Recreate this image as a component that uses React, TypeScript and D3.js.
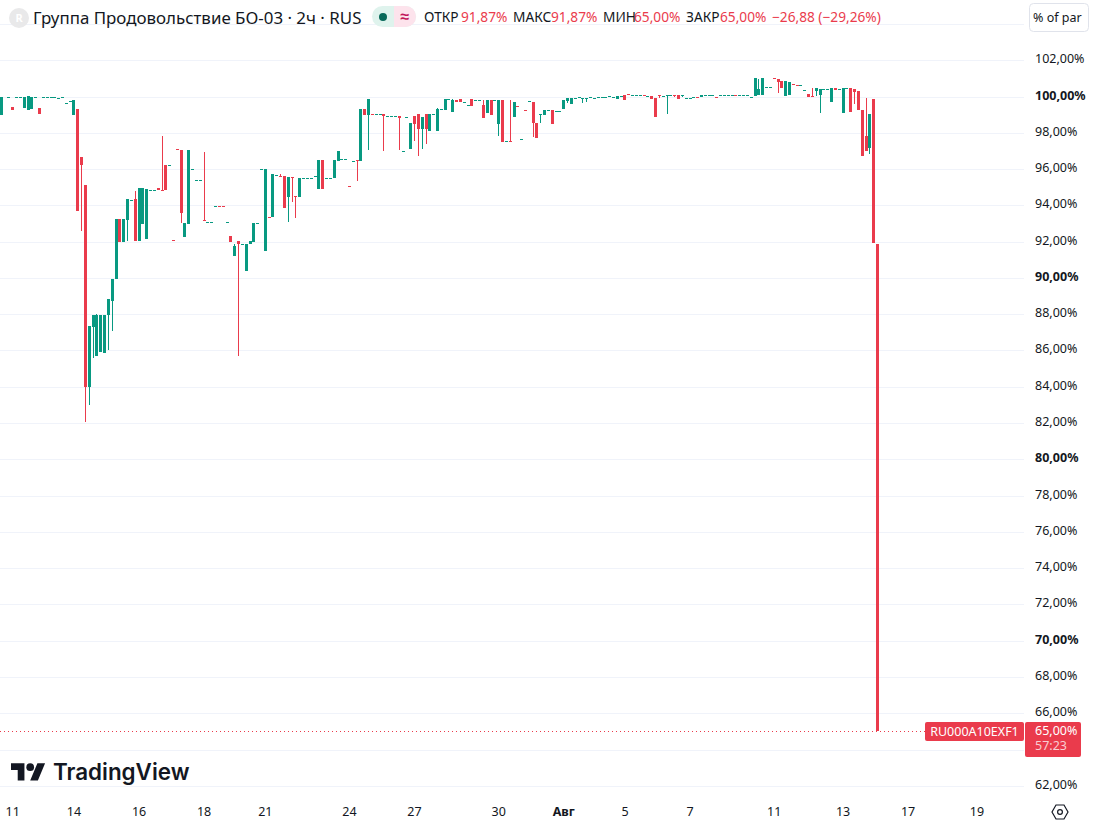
import * as d3 from "d3";

// ── Data ──────────────────────────────────────────────────────────────────────

// one row per 2h slot: [open, close, high?, low?], high/low default to the body
type Row = [number, number, (number | null)?, (number | null)?] | null;

const JUL_11_15: Row[] = [
  [99, 100], null, [99.95, 99.95], [99.42, 99.25], [99.95, 99.95], [99.95, 99.95], [99.38, 99.95], [99.25, 100.03],
  [99.31, 99.95], [99.95, 99.95], [99.36, 99.03], [99.95, 99.95], [100, 100], [99.95, 99.95], [99.95, 99.95], [99.9, 99.9],
  [99.95, 99.95], [99.66, 99.66], [99.73, 99.73], [99, 99.8], [99.3, 93.7], [96.64, 96.23, null, 92.6], [95.11, 83.97, null, 82.04],
];

const JUL_15_21: Row[] = [
  [83.97, 87.34, null, 83], [87.3, 87.93, null, 85.57], [85.67, 87.93, 88], [85.94, 87.93], [85.85, 87.98],
  [87.93, 88.81, null, 86.05], [88.7, 89.95, null, 87.06], [89.95, 93.23], [93.23, 91.98], [91.98, 93.23],
  [93.18, 94.34, null, 92.02], [94.32, 94.32], [94.34, 92.02, 94.78], [92.02, 94.98], [92.96, 94.98], [92.13, 94.89],
  [94.83, 94.83], [94.87, 94.87], [94.98, 94.87], [94.87, 94.86, 97.82], [96.22, 94.83], [96.22, 96.22], [92.11, 92.1],
  [97.08, 97.07], [97.04, 93.55, null, 93.03], [92.26, 93.01], [92.96, 97.04], [96.03, 96.03], [95.42, 95.42], [95.42, 95.42],
  [93.21, 93.2, 96.93], [93.1, 93.1], [93.1, 93.1], [93.99, 93.99], [93.99, 93.98], [93.99, 93.98], [93.1, 93.1],
  [92.29, 91.98], [91.2, 91.74, 91.89], [92.02, 91.85, null, 85.72], [91.89, 91.89], [90.38, 91.89], [91.85, 92.02],
  [91.98, 93.01], [93.01, 93.01],
];

const JUL_21_24: Row[] = [
  [95.98, 95.98], [91.48, 95.98], [93.33, 93.32], [93.36, 95.72], [95.66, 95.66], [95.6, 95.59, 95.72], [95.6, 93.86],
  [94.47, 95.57, null, 93.07], [95.55, 95.54, null, 94.19], [94.5, 94.49, null, 93.29], [94.47, 95.5], [95.53, 95.53],
  [95.53, 95.53], [95.53, 95.53], [95.6, 95.6], [94.91, 96.49], [96.49, 94.91], [95.53, 95.53], [95.53, 95.53],
  [95.51, 96.49], [96.46, 96.99], [96.53, 96.53], [96.53, 96.53], [95.09, 95.08], [96.47, 96.47], [96.49, 96.48, null, 95.35],
];

const JUL_24_31: Row[] = [
  [96.45, 99.31], [99.31, 98.98], [98.98, 99.86, null, 97.06], [99.01, 99], [99.01, 99.01], [99.01, 99.01],
  [99.03, 98.94, null, 97], [98.94, 98.94], [98.9, 98.9], [98.9, 98.9], [98.9, 98.83, null, 97.04], [97.02, 97.02],
  [98.85, 98.85], [97.1, 98.53], [98.92, 98.48, null, 97.54], [99.03, 98.2, null, 96.73], [98.2, 98.87, null, 97.1],
  [99.03, 98.2, null, 97.37], [98.09, 99.03], [99.03, 99.03], [98.09, 99.31, 99.36], [99.29, 99.29], [99.27, 99.86],
  [99.84, 99.84], [99.14, 99.8, 99.86], [99.8, 99.71], [99.86, 99.71], [99.71, 99.71], [99.53, 99.53], [99.86, 99.47],
  [99.79, 99.79], [99.79, 99.79], [99.53, 98.81, 99.8], [99.09, 99.8], [99.8, 98.98], [99.79, 99.79],
  [98.48, 99.8, null, 97.82], [99.8, 97.48], [97.52, 97.52], [97.52, 97.51, 99.8], [98.87, 99.69], [99.45, 99.44],
  [97.63, 97.63], [99.23, 99.22], [99.73, 99.73], [99.69, 98.53, null, 97.76], [98.53, 97.7], [99.01, 99.01, null, 98.53],
  [98.98, 99.25], [99.23, 99.23], [99.25, 98.48], [99.18, 99.18], [99.18, 99.18],
];

const AUG_1_10: Row[] = [
  [99.31, 99.81], [99.77, 99.92, null, 99.62], [99.59, 99.92], [99.92, 99.92], [99.95, 99.95], [99.92, 99.92, null, 99.64],
  [99.92, 99.92, null, 99.7], [99.95, 99.95], [99.93, 99.93, null, 99.84], [99.95, 99.95], [99.95, 99.95], [99.95, 99.95],
  [100.01, 100.01], [99.99, 99.99], [99.86, 100.01], [100.03, 100.03], [100.06, 99.81], [100.14, 100.13], [100.08, 100.08],
  [100.08, 100.08], [100.08, 100.08], [100.08, 100.07, 100.14], [100.03, 100.03], [100.03, 99.86], [99.92, 98.87],
  [100.06, 100.05, null, 99.92], [100.03, 100.03], [100.08, 100.08, null, 99.03], [100.08, 100.08], [100.06, 100.05, null, 99.99],
  [100.08, 99.86], [100.08, 100.08, null, 99.95], [99.9, 99.9], [99.9, 99.9], [99.95, 99.95], [99.97, 99.96], [99.97, 100.08],
  [100.08, 100.08], [100.08, 100.08], [100.08, 100.08], [99.95, 99.94], [100.08, 100.08], [100.08, 100.08], [100.08, 100.08],
  [100.08, 100.08], [100.08, 100.07], [100.08, 100.08], [100.08, 100.08], [100.08, 100.08], [99.97, 99.97],
];

const AUG_10_14: Row[] = [
  [100.03, 101.02], [100.08, 100.41, 100.97], [100.08, 101.02], [100.51, 100.51], [100.51, 100.51], [101, 100.99],
  [100.97, 100.8, null, 100.19], [100.86, 100.47], [100.03, 100.86], [100.06, 100.8], [100.69, 100.68], [100.64, 100.63],
  [100.62, 100.62], [100.36, 100.36], [100.14, 99.97], [100.03, 100.02, 100.47], [100.3, 100.47, null, 100.03],
  [100.08, 100.41, null, 99.09], [100.41, 100.41], [100.41, 100.41], [99.7, 100.47], [100.47, 100.36], [100.41, 100.41],
  [99.09, 100.47], [100.47, 100.47], [100.47, 99.14], [100.41, 100.25, null, 99.59], [100.3, 99.25], [99.25, 96.71],
  [97.82, 96.99, 99.92], [97.15, 99.03, null, 96.82], [99.86, 91.9], [91.87, 65],
];

const CANDLES: Row[] = [...JUL_11_15, ...JUL_15_21, ...JUL_21_24, ...JUL_24_31, ...AUG_1_10, ...AUG_10_14];

const GRID_VALUES = [104, 102, 100, 98, 96, 94, 92, 90, 88, 86, 84, 82, 80, 78, 76, 74, 72, 70, 68, 66, 64, 62];
const PRICE_LABELS = [102, 100, 98, 96, 94, 92, 90, 88, 86, 84, 82, 80, 78, 76, 74, 72, 70, 68, 66, 62];
const BOLD_LABELS = [100, 90, 80, 70];

const DATE_LABELS = ["11", "14", "16", "18", "21", "24", "27", "30", "Авг", "5", "7", "11", "13", "17", "19"];
const DATE_SLOTS = [3, 19, 36, 53, 69, 91, 108, 130, 147, 163, 180, 202, 220, 237, 255];

const LAST_PRICE = 65;

// ── Constants ─────────────────────────────────────────────────────────────────

const WIDTH = 1093;
const HEIGHT = 826;
const GREEN = "#089981";
const RED = "#ea3b4c";
const TEXT = "#131722";
const FONT = "'Noto Sans', sans-serif";

const xScale = d3.scaleLinear().domain([0, 229]).range([1.3, 877.5]);
const yScale = d3.scaleLinear().domain([100, 62]).range([96.5, 785.8]);

const fmt = (v: number) => `${v.toFixed(2).replace(".", ",")}%`;

function Candle({ row, slot }: { row: Row; slot: number }) {
  if (!row) return null;
  const [open, close, high, low] = row;
  const top = Math.max(open, close);
  const bottom = Math.min(open, close);
  const color = close >= open ? GREEN : RED;
  const cx = Math.floor(xScale(slot));
  const bodyY = Math.round(yScale(top));
  const bodyH = Math.max(1, Math.round(yScale(bottom)) - bodyY);
  const wickTop = Math.round(yScale(high ?? top));
  const wickBottom = Math.round(yScale(low ?? bottom));
  return (
    <g fill={color} shapeRendering="crispEdges">
      {wickBottom - wickTop > bodyH && <rect x={cx} y={wickTop} width={1} height={wickBottom - wickTop} />}
      <rect x={cx - 1} y={bodyY} width={3} height={bodyH} />
    </g>
  );
}

export default function App() {
  const lastY = Math.round(yScale(LAST_PRICE));

  return (
    <svg
      width={WIDTH}
      height={HEIGHT}
      viewBox={`0 0 ${WIDTH} ${HEIGHT}`}
      style={{ position: "absolute", left: 0, top: 0, display: "block", background: "#fff" }}
      fontFamily={FONT}
    >
      {/* Grid */}
      {GRID_VALUES.map((v) => (
        <line key={v} x1={0} x2={1024} y1={Math.round(yScale(v)) + 0.5} y2={Math.round(yScale(v)) + 0.5} stroke="#f0f3fa" />
      ))}

      {/* Header */}
      <circle cx={19} cy={18} r={10} fill="#e9e9ea" />
      <text x={19} y={22} textAnchor="middle" fontSize={11} fontWeight={700} fill="#fff">R</text>
      <text x={33} y={23.5} fontSize={16.9} fill={TEXT}>Группа Продовольствие БО-03 · 2ч · RUS</text>

      <rect x={372} y={6} width={44} height={21} rx={10.5} fill="#dff3ed" />
      <path d="M394 6h11.5a10.5 10.5 0 0 1 0 21H394z" fill="#fde3ec" />
      <circle cx={383} cy={17} r={4} fill="#08695a" />
      <text x={405} y={22} textAnchor="middle" fontSize={16} fontWeight={700} fill="#c2185b">≈</text>

      <g fontSize={13.7}>
        <text x={424} y={22} fill={TEXT}>ОТКР</text>
        <text x={461} y={22} fill={RED}>91,87%</text>
        <text x={513} y={22} fill={TEXT}>МАКС</text>
        <text x={551} y={22} fill={RED}>91,87%</text>
        <text x={603} y={22} fill={TEXT}>МИН</text>
        <text x={634} y={22} fill={RED}>65,00%</text>
        <text x={686} y={22} fill={TEXT}>ЗАКР</text>
        <text x={720} y={22} fill={RED}>65,00%</text>
        <text x={772} y={22} fill={RED}>−26,88 (−29,26%)</text>
      </g>

      {/* % of par button */}
      <rect x={1029.5} y={3.5} width={59} height={28} rx={4} fill="#fff" stroke="#e0e3eb" />
      <text x={1033} y={22} fontSize={12.5} fill={TEXT}>% of par</text>

      {/* Candles */}
      {CANDLES.map((row, i) => (
        <Candle key={i} row={row} slot={i} />
      ))}

      {/* Last price line */}
      <line x1={0} x2={925} y1={lastY + 0.5} y2={lastY + 0.5} stroke={RED} strokeDasharray="1 3" />

      {/* Price axis */}
      {PRICE_LABELS.map((v) => (
        <text
          key={v}
          x={1035}
          y={yScale(v) + 3}
          fontSize={12.5}
          fontWeight={BOLD_LABELS.includes(v) ? 700 : 400}
          fill={TEXT}
        >
          {fmt(v)}
        </text>
      ))}

      {/* Last price labels */}
      <rect x={925} y={722} width={99} height={19} rx={2} fill={RED} />
      <text x={974.5} y={736} textAnchor="middle" fontSize={12.5} fill="#fff">RU000A10EXF1</text>
      <rect x={1025} y={722} width={56} height={35} rx={2} fill={RED} />
      <text x={1035} y={735} fontSize={12.5} fill="#fff">{fmt(LAST_PRICE)}</text>
      <text x={1035} y={750} fontSize={12.5} fill="#fff" fillOpacity={0.75}>57:23</text>

      {/* Time axis */}
      {DATE_LABELS.map((label, i) => (
        <text
          key={`${label}-${i}`}
          x={xScale(DATE_SLOTS[i])}
          y={816}
          textAnchor="middle"
          fontSize={12.5}
          fontWeight={label === "Авг" ? 700 : 400}
          fill={TEXT}
        >
          {label}
        </text>
      ))}

      {/* Settings hexagon */}
      <g transform="translate(1060,812)" fill="none" stroke={TEXT} strokeWidth={1.2}>
        <path d="M-4-7H4L8 0 4 7H-4L-8 0Z" />
        <circle r={2.4} />
      </g>

      {/* Watermark */}
      <g transform="translate(11,759.5) scale(0.96)" fill="#131722">
        <path d="M14 22H7V11H0V4h14v18zM28 22h-8l7.5-18h8L28 22z" />
        <circle cx={20} cy={8} r={4} />
      </g>
      <text x={53} y={780} fontFamily="Inter, sans-serif" fontSize={22.4} fontWeight={600} fill="#131722">TradingView</text>
    </svg>
  );
}
